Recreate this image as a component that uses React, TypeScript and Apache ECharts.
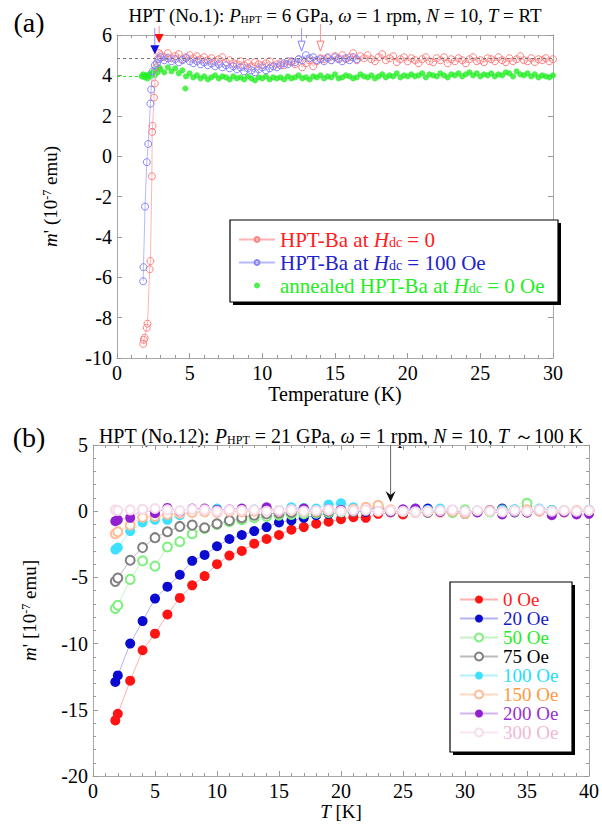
import React, { useEffect, useRef } from "react";
import * as echarts from "echarts";

const SERIF = "'Liberation Serif', 'Times New Roman', serif";

// ---------------- Panel (a) data ----------------
const A_NAMES = ["HPT-Ba at Hdc = 0", "HPT-Ba at Hdc = 100 Oe", "annealed HPT-Ba at Hdc = 0 Oe"];
const A_TEXT_COLORS = ["#ff2020", "#2222cc", "#22ee22"];

const A_RED_LOW_T = [1.8, 1.85, 1.9, 2.05, 2.1, 2.25, 2.3, 2.4, 2.42, 2.45, 2.55, 2.6, 2.7, 2.8, 2.9];
const A_RED_LOW_M = [-9.3, -9.1, -9.0, -8.5, -8.3, -5.6, -5.2, -1.0, 1.2, 1.5, 2.9, 3.6, 4.4, 4.8, 5.1];
const A_BLUE_LOW_T = [1.8, 1.82, 1.93, 2.05, 2.15, 2.3, 2.35, 2.45, 2.6, 2.75, 2.9];
const A_BLUE_LOW_M = [-6.2, -5.5, -2.5, -0.3, 0.6, 2.6, 3.3, 4.2, 4.5, 4.6, 4.8];
const A_GREEN_LOW_T = [1.7, 1.8, 1.9, 2.0, 2.1, 2.2, 2.3, 2.4, 2.5, 2.6, 2.7, 2.8, 2.9];
const A_GREEN_LOW_M = [3.95, 4.05, 3.9, 4.0, 3.85, 4.05, 3.95, 4.1, 4.2, 4.0, 4.3, 4.15, 4.4];

const A_T = [
  3, 3.25, 3.5, 3.75, 4, 4.25, 4.5, 4.75, 5, 5.25, 5.5, 5.75, 6, 6.25, 6.5, 6.75, 7, 7.25, 7.5, 7.75,
  8, 8.25, 8.5, 8.75, 9, 9.25, 9.5, 9.75, 10, 10.25, 10.5, 10.75, 11, 11.25, 11.5, 11.75, 12, 12.25, 12.5, 12.75,
  13, 13.25, 13.5, 13.75, 14, 14.25, 14.5, 14.75, 15, 15.25, 15.5, 15.75, 16, 16.25, 16.5, 16.75, 17, 17.25, 17.5, 17.75,
  18, 18.25, 18.5, 18.75, 19, 19.25, 19.5, 19.75, 20, 20.25, 20.5, 20.75, 21, 21.25, 21.5, 21.75, 22, 22.25, 22.5, 22.75,
  23, 23.25, 23.5, 23.75, 24, 24.25, 24.5, 24.75, 25, 25.25, 25.5, 25.75, 26, 26.25, 26.5, 26.75, 27, 27.25, 27.5, 27.75,
  28, 28.25, 28.5, 28.75, 29, 29.25, 29.5, 29.75, 30,
];
const A_RED_M = [
  5.0, 4.9, 5.1, 4.85, 4.95, 5.05, 4.8, 4.9, 5.0,
  4.85, 4.95, 4.8, 4.9, 4.75, 4.85, 4.7, 4.8, 4.9, 4.65, 4.75, 4.6,
  4.55, 4.7, 4.5, 4.6, 4.45, 4.65, 4.55, 4.5, 4.6, 4.7, 4.45, 4.55,
  4.6, 4.5, 4.7, 4.65, 4.55, 4.8, 4.4, 4.6, 4.75, 4.45, 4.7, 4.85,
  4.8, 4.9, 4.75, 4.95, 4.85, 5.0, 4.8, 4.9, 5.1, 4.75, 4.95, 4.85,
  5.0, 4.8, 4.7, 4.9, 5.05, 4.75, 4.85, 4.95, 4.65, 4.8, 4.9, 4.7,
  4.85, 4.75, 4.6, 4.8, 4.9, 4.7, 4.65, 4.85, 4.75, 4.9, 4.6, 4.8,
  4.7, 4.85, 4.75, 4.6, 4.8, 4.9, 4.7, 4.75, 4.65, 4.85, 4.8, 4.7,
  4.9, 4.75, 4.65, 4.85, 4.7, 4.8, 4.95, 4.75, 4.7, 4.85, 4.65, 4.8,
  4.75, 4.85, 4.7, 4.8,
];
const A_BLUE_M = [
  4.9, 4.75, 4.85, 4.7, 4.8, 4.65, 4.75, 4.85, 4.7,
  4.6, 4.7, 4.55, 4.65, 4.5, 4.6, 4.45, 4.55, 4.4, 4.5, 4.35, 4.45,
  4.3, 4.4, 4.2, 4.35, 4.25, 4.15, 4.3, 4.4, 4.25, 4.35, 4.45, 4.4,
  4.5, 4.6, 4.55, 4.7, 4.65, 4.8, 4.75, 5.0, 4.85, 4.9, 4.75, 4.8,
  4.7, 4.85, 4.75, 4.9, 4.8, 4.7, 4.85, 4.75, 4.9, 4.8,
];
const A_GREEN_M = [
  4.3, 4.15, 4.4, 4.2, 4.35, 4.1, 4.25, 3.95, 4.1,
  3.9, 4.0, 3.85, 3.95, 3.8, 3.9, 4.0, 3.85, 3.95, 3.9, 3.8, 3.95,
  3.85, 3.9, 3.8, 3.95, 3.85, 3.75, 3.9, 3.85, 3.95, 3.8, 3.9, 3.85,
  3.9, 3.8, 3.95, 3.85, 3.9, 4.0, 3.85, 3.9, 3.8, 3.95, 3.9, 4.0,
  3.85, 3.95, 3.9, 4.05, 3.85, 3.9, 4.0, 3.95, 3.85, 3.9, 4.05, 3.95,
  3.9, 4.0, 3.85, 3.95, 4.05, 3.9, 4.0, 3.95, 4.1, 3.9, 4.0, 3.95,
  4.05, 3.95, 4.0, 4.1, 3.9, 4.05, 4.0, 3.95, 4.1, 4.0, 3.9, 4.05,
  4.0, 4.1, 3.95, 4.05, 4.15, 4.0, 4.1, 3.95, 4.05, 4.0, 4.1, 3.95,
  4.05, 4.0, 4.15, 4.1, 3.95, 4.2, 4.05, 4.0, 4.1, 3.95, 4.05, 3.9,
  4.0, 3.95, 3.9, 4.0,
];
const A_GREEN_OUT_T = [4.7];
const A_GREEN_OUT_M = [3.35];
const A_REF_LEVEL = 4.85;
const A_GREEN_REF_LEVEL = 3.97;
const A_GREEN_REF_END = 2.0;

// arrows in panel (a): temperature, start level, tip level
const A_ARROW_T = [2.6, 2.9, 12.7, 14.0];
const A_ARROW_FROM = [6.35, 6.45, 6.35, 6.55];
const A_ARROW_TO = [5.05, 5.6, 5.2, 5.2];

// ---------------- Panel (b) data ----------------
const B_NAMES = ["0 Oe", "20 Oe", "50 Oe", "75 Oe", "100 Oe", "150 Oe", "200 Oe", "300 Oe"];
const B_T = [1.8, 2, 3, 4, 5, 6, 7, 8, 9, 10, 11, 12, 13, 14, 15, 16, 17, 18, 19, 20, 21, 22, 23, 24, 25, 26, 27, 28, 29, 30, 31, 32, 33, 34, 35, 36, 37, 38, 39, 40];
const B_0 = [-15.8, -15.3, -12.8, -10.5, -9.25, -7.8, -6.55, -5.6, -4.9, -4.0, -3.35, -3.0, -2.45, -2.1, -1.8, -1.4, -1.2, -0.95, -0.8, -0.6, -0.45, -0.5, -0.2, -0.1, -0.25, -0.05, -0.1, 0.0, -0.1, -0.2, -0.05, 0.0, -0.1, 0.05, -0.1, 0.0, -0.05, -0.1, 0.0, -0.05];
const B_20 = [-12.9, -12.4, -10.0, -8.3, -6.6, -5.7, -4.8, -3.75, -3.3, -2.65, -2.1, -1.8, -1.5, -1.2, -0.85, -0.7, -0.5, -0.3, -0.2, -0.1, 0.0, -0.05, 0.1, 0.05, -0.05, 0.1, 0.2, 0.0, -0.1, 0.0, 0.05, -0.05, 0.2, -0.1, 0.2, 0.05, 0.0, -0.05, 0.0, 0.0];
const B_50 = [-7.35, -7.1, -5.15, -3.75, -4.15, -2.7, -2.3, -1.7, -1.3, -1.0, -0.8, -0.65, -0.5, -0.4, -0.3, -0.25, -0.2, -0.15, -0.1, -0.05, 0.0, 0.05, 0.1, 0.0, 0.05, -0.05, 0.0, 0.05, -0.1, 0.1, 0.0, -0.05, 0.0, 0.1, 0.6, 0.1, 0.0, 0.05, -0.05, 0.0];
const B_75 = [-5.3, -5.05, -3.7, -2.75, -2.0, -1.55, -1.15, -1.05, -1.25, -0.95, -0.7, -0.5, -0.3, -0.2, -0.15, -0.1, 0.0, -0.05, 0.0, 0.1, 0.0, 0.1, 0.3, 0.0, -0.05, 0.0, -0.1, 0.0, 0.05, -0.1, 0.0, 0.05, 0.1, 0.0, -0.05, 0.1, 0.05, 0.0, -0.05, 0.05];
const B_100 = [-2.9, -2.75, -1.5, -0.85, -0.65, -0.65, -0.3, -0.1, 0.0, 0.2, 0.05, 0.1, 0.15, 0.05, 0.1, 0.3, 0.25, 0.2, 0.5, 0.6, 0.3, 0.1, 0.0, 0.05, 0.1, 0.2, 0.1, 0.2, 0.05, -0.2, 0.0, 0.05, 0.1, 0.15, 0.0, 0.2, 0.1, 0.0, 0.05, 0.1];
const B_150 = [-1.7, -1.55, -1.05, -0.45, -0.4, -0.25, -0.15, -0.1, -0.05, -0.1, 0.0, -0.05, 0.0, 0.05, 0.0, 0.1, 0.05, 0.0, 0.1, 0.05, 0.15, 0.3, 0.45, 0.1, 0.0, -0.1, 0.0, -0.1, 0.0, -0.15, 0.0, 0.05, -0.05, 0.0, 0.1, 0.0, -0.05, 0.0, 0.05, 0.0];
const B_200 = [-0.75, -0.65, -0.5, 0.15, -0.15, 0.25, 0.0, 0.2, 0.2, 0.1, 0.15, 0.2, 0.1, 0.3, 0.0, 0.1, 0.2, 0.05, 0.15, 0.1, 0.0, 0.05, 0.0, -0.05, 0.15, 0.2, 0.0, -0.05, 0.1, 0.0, -0.1, 0.05, -0.25, 0.0, -0.1, 0.05, -0.3, -0.05, -0.25, -0.2];
const B_300 = [0.1, 0.05, 0.1, 0.15, 0.2, 0.1, 0.05, 0.15, 0.1, 0.0, 0.1, 0.05, 0.1, 0.0, 0.05, 0.1, 0.0, 0.05, 0.1, 0.0, 0.05, 0.1, 0.0, 0.05, 0.0, -0.05, 0.0, 0.05, 0.1, 0.0, 0.05, 0.0, -0.05, 0.05, 0.0, 0.1, 0.0, 0.05, 0.0, 0.05];
const B_VALUES = [B_0, B_20, B_50, B_75, B_100, B_150, B_200, B_300];
const B_SYMBOL_COLORS = ["#ff1414", "#0a0ad0", "#7ef07e", "#808080", "#3ee0ff", "#ffbc96", "#9020d0", "#f6dceb"];
const B_LINE_COLORS = ["#ffb0b0", "#b4b4f4", "#c4f4c4", "#bcbcbc", "#b4f0ff", "#ffd8c4", "#d2b4f0", "#fae6f0"];
const B_FILLED = [true, true, false, false, true, false, true, false];
const B_TEXT_COLORS = ["#ff1a1a", "#1a1acc", "#22ee22", "#000000", "#22ddff", "#ff9a40", "#9b30d0", "#f0b8d8"];

// arrow in panel (b)
const B_ARROW_T = 24;
const B_ARROW_FROM = 5;
const B_ARROW_TO = 0.7;

const zip = (t: number[], m: number[]) => t.map((x, i) => [x, m[i]]);

function axisCommon(extra: any) {
  return {
    type: "value",
    axisLine: { show: true, onZero: false, lineStyle: { color: "#a8a8a8", width: 1 } },
    axisTick: { show: true, inside: true, length: 5, lineStyle: { color: "#999" } },
    splitLine: { show: false },
    axisLabel: { fontFamily: SERIF, fontSize: 20, color: "#000", margin: 5 },
    ...extra,
  };
}

function buildOption(): any {
  const redData = zip(A_RED_LOW_T, A_RED_LOW_M).concat(zip(A_T, A_RED_M));
  const blueData = zip(A_BLUE_LOW_T, A_BLUE_LOW_M).concat(zip(A_T.slice(0, A_BLUE_M.length), A_BLUE_M));
  const greenData = zip(A_GREEN_LOW_T, A_GREEN_LOW_M)
    .concat(zip(A_T, A_GREEN_M))
    .concat(zip(A_GREEN_OUT_T, A_GREEN_OUT_M));

  const nameStyle = (size: number, rich: any) => ({ fontFamily: SERIF, fontSize: size, color: "#000", rich });
  const richAxis = {
    i: { fontStyle: "italic", fontFamily: SERIF, fontSize: 19 },
    s: { fontFamily: SERIF, fontSize: 12, verticalAlign: "top" },
  };

  const bSeries = B_NAMES.map((n, k) => ({
    type: "line",
    name: n,
    xAxisIndex: 2,
    yAxisIndex: 2,
    data: zip(B_T, B_VALUES[k]),
    symbol: B_FILLED[k] ? "circle" : "emptyCircle",
    symbolSize: B_FILLED[k] ? 10 : 9,
    itemStyle: { color: B_SYMBOL_COLORS[k], borderWidth: B_FILLED[k] ? 0 : 1.1 },
    lineStyle: { color: B_LINE_COLORS[k], width: 1 },
    z: 2 + k * 0.1,
  }));

  const legendRichA = {
    i: { fontStyle: "italic", fontFamily: SERIF, fontSize: 21, lineHeight: 20 },
    s: { fontFamily: SERIF, fontSize: 14, verticalAlign: "bottom", lineHeight: 16 },
  };

  return {
    animation: false,
    backgroundColor: "#fff",
    grid: [
      { left: 117, top: 35, width: 436, height: 323 },
      { left: 93, top: 445, width: 498, height: 331 },
    ],
    xAxis: [
      axisCommon({
        gridIndex: 0, min: 0, max: 30, interval: 5, position: "bottom",
        minorTick: { show: true, splitNumber: 5, length: 3, lineStyle: { color: "#999" } },
        name: "Temperature (K)", nameLocation: "middle", nameGap: 25,
        nameTextStyle: nameStyle(20, {}),
      }),
      axisCommon({
        gridIndex: 0, min: 0, max: 30, interval: 5, position: "top",
        minorTick: { show: true, splitNumber: 5, length: 3, lineStyle: { color: "#999" } },
        axisLabel: { show: false },
      }),
      axisCommon({
        gridIndex: 1, min: 0, max: 40, interval: 5, position: "bottom",
        minorTick: { show: true, splitNumber: 5, length: 3, lineStyle: { color: "#999" } },
        name: "{i|T} [K]", nameLocation: "middle", nameGap: 26,
        nameTextStyle: nameStyle(19, richAxis),
      }),
      axisCommon({
        gridIndex: 1, min: 0, max: 40, interval: 5, position: "top",
        minorTick: { show: true, splitNumber: 5, length: 3, lineStyle: { color: "#999" } },
        axisLabel: { show: false },
      }),
    ],
    yAxis: [
      axisCommon({
        gridIndex: 0, min: -10, max: 6, interval: 2, position: "left",
        name: "{i|m}' (10{s|-7} emu)", nameLocation: "middle", nameGap: 57, nameRotate: 90,
        nameTextStyle: nameStyle(19, richAxis),
      }),
      axisCommon({
        gridIndex: 0, min: -10, max: 6, interval: 2, position: "right",
        axisLabel: { show: false },
      }),
      axisCommon({
        gridIndex: 1, min: -20, max: 5, interval: 5, position: "left",
        minorTick: { show: true, splitNumber: 5, length: 3, lineStyle: { color: "#999" } },
        name: "{i|m}' [10{s|-7} emu]", nameLocation: "middle", nameGap: 54, nameRotate: 90,
        nameTextStyle: nameStyle(19, richAxis),
      }),
      axisCommon({
        gridIndex: 1, min: -20, max: 5, interval: 5, position: "right",
        minorTick: { show: true, splitNumber: 5, length: 3, lineStyle: { color: "#999" } },
        axisLabel: { show: false },
      }),
    ],
    legend: [
      {
        orient: "vertical", left: 238, top: 229, padding: 0, itemWidth: 36, itemHeight: 6, itemGap: 2,
        selectedMode: false, z: 6,
        data: A_NAMES.map((n, k) => ({ name: n, textStyle: { color: A_TEXT_COLORS[k] } })),
        formatter: (n: string) => n.replace("Hdc", "{i|H}{s|dc}"),
        textStyle: { fontFamily: SERIF, fontSize: 21, lineHeight: 20, rich: legendRichA },
      },
      {
        orient: "vertical", left: 459, top: 590, padding: 0, itemWidth: 38, itemHeight: 10, itemGap: 0,
        selectedMode: false, z: 6,
        data: B_NAMES.map((n, k) => ({ name: n, textStyle: { color: B_TEXT_COLORS[k] } })),
        textStyle: { fontFamily: SERIF, fontSize: 19, lineHeight: 19 },
      },
    ],
    series: [
      {
        type: "line", name: A_NAMES[0], xAxisIndex: 0, yAxisIndex: 0, data: redData,
        symbol: "circle", symbolSize: 7,
        itemStyle: { color: "rgba(255,255,255,0)", borderColor: "#ff8080", borderWidth: 1 },
        lineStyle: { color: "#ffb4b4", width: 1 },
        markLine: {
          silent: true, symbol: "none", label: { show: false },
          lineStyle: { color: "#777", type: [3, 3], width: 1 },
          data: [{ yAxis: A_REF_LEVEL }],
        },
      },
      {
        type: "line", name: A_NAMES[1], xAxisIndex: 0, yAxisIndex: 0, data: blueData,
        symbol: "circle", symbolSize: 7,
        itemStyle: { color: "rgba(255,255,255,0)", borderColor: "#8484ff", borderWidth: 1 },
        lineStyle: { color: "#b8b8ff", width: 1 },
      },
      {
        type: "scatter", name: A_NAMES[2], xAxisIndex: 0, yAxisIndex: 0, data: greenData,
        symbol: "circle", symbolSize: 6,
        itemStyle: { color: "#22ee22" },
        markLine: {
          silent: true, symbol: "none", label: { show: false },
          lineStyle: { color: "#22ee22", type: [3, 3], width: 1 },
          data: [[{ coord: [0, A_GREEN_REF_LEVEL] }, { coord: [A_GREEN_REF_END, A_GREEN_REF_LEVEL] }]],
        },
      },
      ...bSeries,
    ],
  };
}

function buildGraphic(chart: any): any[] {
  const pa = (x: number, y: number) => chart.convertToPixel({ xAxisIndex: 0, yAxisIndex: 0 }, [x, y]) as number[];
  const pb = (x: number, y: number) => chart.convertToPixel({ xAxisIndex: 2, yAxisIndex: 2 }, [x, y]) as number[];
  const titleRich = (size: number) => ({
    i: { fontStyle: "italic", fontFamily: SERIF, fontSize: size, fill: "#000" },
    s: { fontFamily: SERIF, fontSize: Math.round(size * 0.6), fill: "#000", verticalAlign: "bottom" },
  });
  const els: any[] = [
    { type: "text", x: 29, y: 22, style: { text: "(a)", fontFamily: SERIF, fontSize: 28, fill: "#000", align: "center", verticalAlign: "middle" } },
    { type: "text", x: 29, y: 437, style: { text: "(b)", fontFamily: SERIF, fontSize: 28, fill: "#000", align: "center", verticalAlign: "middle" } },
    {
      type: "text", x: 335, y: 15,
      style: {
        text: "HPT (No.1): {i|P}{s|HPT} = 6 GPa, {i|ω} = 1 rpm, {i|N} = 10, {i|T} = RT",
        fontFamily: SERIF, fontSize: 19, fill: "#000", align: "center", verticalAlign: "middle", rich: titleRich(19),
      },
    },
    {
      type: "text", x: 341, y: 436,
      style: {
        text: "HPT (No.12): {i|P}{s|HPT} = 21 GPa, {i|ω} = 1 rpm, {i|N} = 10, {i|T} ～100 K",
        fontFamily: SERIF, fontSize: 20, fill: "#000", align: "center", verticalAlign: "middle", rich: titleRich(20),
      },
    },
    // legend boxes with hard shadows
    { type: "rect", z: 3, shape: { x: 233, y: 223, width: 328, height: 82 }, style: { fill: "#000" } },
    { type: "rect", z: 3, shape: { x: 230, y: 220, width: 328, height: 82 }, style: { fill: "#fff", stroke: "#000", lineWidth: 1.2 } },
    { type: "rect", z: 3, shape: { x: 453, y: 585, width: 122, height: 170 }, style: { fill: "#000" } },
    { type: "rect", z: 3, shape: { x: 450, y: 582, width: 122, height: 170 }, style: { fill: "#fff", stroke: "#000", lineWidth: 1.2 } },
  ];

  const arrowLine = ["#8c8cff", "#ff8c8c", "#9a9aff", "#ff9a9a"];
  const arrowHead = ["#1010d8", "#ff1010", "#8080ff", "#ff7a7a"];
  const arrowFilled = [true, true, false, false];
  A_ARROW_T.forEach((t, k) => {
    const [x, y1] = pa(t, A_ARROW_FROM[k]);
    const [, y2] = pa(t, A_ARROW_TO[k]);
    const h = arrowFilled[k] ? 9 : 10;
    const w = arrowFilled[k] ? 4.5 : 3.5;
    els.push({ type: "line", z: 5, shape: { x1: x, y1, x2: x, y2: y2 - h + 1 }, style: { stroke: arrowLine[k], lineWidth: 1 } });
    els.push({
      type: "polygon", z: 5,
      shape: { points: [[x, y2], [x - w, y2 - h], [x + w, y2 - h]] },
      style: arrowFilled[k] ? { fill: arrowHead[k] } : { fill: "#fff", stroke: arrowHead[k], lineWidth: 1 },
    });
  });

  const [bx, by1] = pb(B_ARROW_T, B_ARROW_FROM);
  const [, by2] = pb(B_ARROW_T, B_ARROW_TO);
  els.push({ type: "line", z: 5, shape: { x1: bx, y1: by1, x2: bx, y2: by2 - 6 }, style: { stroke: "#666", lineWidth: 1 } });
  els.push({
    type: "polygon", z: 5,
    shape: { points: [[bx, by2], [bx - 5, by2 - 11], [bx, by2 - 7], [bx + 5, by2 - 11]] },
    style: { fill: "#111" },
  });
  return els;
}

export default function App() {
  const ref = useRef<HTMLDivElement>(null);
  useEffect(() => {
    const chart = echarts.init(ref.current!, null, { renderer: "svg" });
    chart.setOption(buildOption());
    chart.setOption({ graphic: buildGraphic(chart) });
    return () => chart.dispose();
  }, []);
  return (
    <div
      ref={ref}
      style={{ position: "absolute", left: 0, top: 0, width: 602, height: 826, background: "#fff" }}
    />
  );
}
